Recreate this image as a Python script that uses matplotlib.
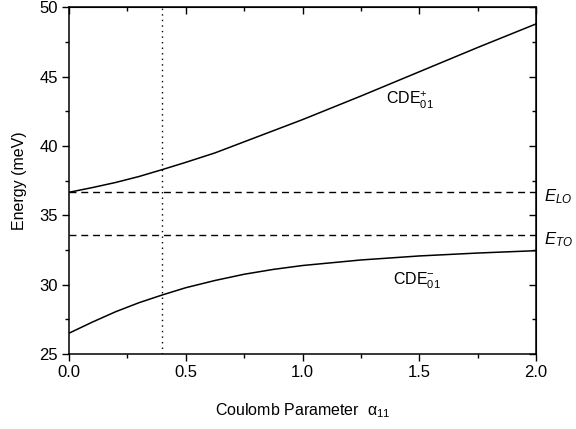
import matplotlib.pyplot as plt
from matplotlib.ticker import MultipleLocator

plt.rcParams['font.family'] = ['Liberation Sans', 'DejaVu Sans']
plt.rcParams['mathtext.fontset'] = 'custom'
plt.rcParams['mathtext.rm'] = 'Liberation Sans'
plt.rcParams['mathtext.it'] = 'Liberation Sans:italic'
plt.rcParams['mathtext.bf'] = 'Liberation Sans:bold'

# values
alpha = [0.0, 0.1, 0.2, 0.3, 0.4, 0.5, 0.625, 0.75, 0.875, 1.0, 1.25, 1.5, 1.75, 2.0]
cde_plus = [36.66, 37.0, 37.37, 37.8, 38.3, 38.82, 39.5, 40.3, 41.1, 41.9,
            43.6, 45.35, 47.1, 48.8]
cde_minus = [26.5, 27.3, 28.05, 28.7, 29.26, 29.78, 30.3, 30.75, 31.1, 31.38,
             31.78, 32.07, 32.28, 32.45]
e_lo = 36.7
e_to = 33.6
alpha_mark = 0.4

fig = plt.figure(figsize=(5.76, 4.29), dpi=100)
ax = fig.add_axes([69 / 576, 1 - 354 / 429, (536 - 69) / 576, (354 - 7.3) / 429])

ax.plot(alpha, cde_plus, color='black', lw=1.1)
ax.plot(alpha, cde_minus, color='black', lw=1.1)
ax.axhline(e_lo, color='black', lw=1.0, ls=(0, (5, 3.5)))
ax.axhline(e_to, color='black', lw=1.0, ls=(0, (5, 3.5)))
ax.axvline(alpha_mark, color='black', lw=1.0, ls=(0, (1, 3)))

ax.set_xlim(0, 2.0)
ax.set_ylim(25, 50)
ax.xaxis.set_major_locator(MultipleLocator(0.5))
ax.xaxis.set_minor_locator(MultipleLocator(0.25))
ax.yaxis.set_major_locator(MultipleLocator(5))
ax.yaxis.set_minor_locator(MultipleLocator(2.5))
ax.set_xticks([0, 0.5, 1.0, 1.5, 2.0], ['0.0', '0.5', '1.0', '1.5', '2.0'])
ax.tick_params(which='major', direction='out', length=5, width=1, labelsize=12, pad=3)
ax.tick_params(which='minor', direction='out', length=3, width=1)
for s in ax.spines.values():
    s.set_linewidth(1.1)

# mirrored ticks on top and right, pointing inward
top = ax.secondary_xaxis('top')
top.xaxis.set_major_locator(MultipleLocator(0.5))
top.xaxis.set_minor_locator(MultipleLocator(0.25))
top.tick_params(which='major', direction='in', length=5, width=1, labeltop=False)
top.tick_params(which='minor', direction='in', length=3, width=1)
right = ax.secondary_yaxis('right')
right.yaxis.set_major_locator(MultipleLocator(5))
right.yaxis.set_minor_locator(MultipleLocator(2.5))
right.tick_params(which='major', direction='in', length=5, width=1, labelright=False)
right.tick_params(which='minor', direction='in', length=3, width=1)

ax.set_xlabel('Coulomb Parameter  α$_{11}$', fontsize=11.5, labelpad=15)
ax.set_ylabel('Energy (meV)', fontsize=11.5, labelpad=9)

ax.text(1.46, 43.3, r'CDE$^{+}_{01}$', fontsize=11.5, ha='center', va='center')
ax.text(1.49, 30.3, r'CDE$^{-}_{01}$', fontsize=11.5, ha='center', va='center')
ax.text(2.035, e_lo - 0.35, r'$E_{LO}$', fontsize=12, ha='left', va='center')
ax.text(2.035, e_to - 0.35, r'$E_{TO}$', fontsize=12, ha='left', va='center')

fig.savefig('out.png', dpi=100)
